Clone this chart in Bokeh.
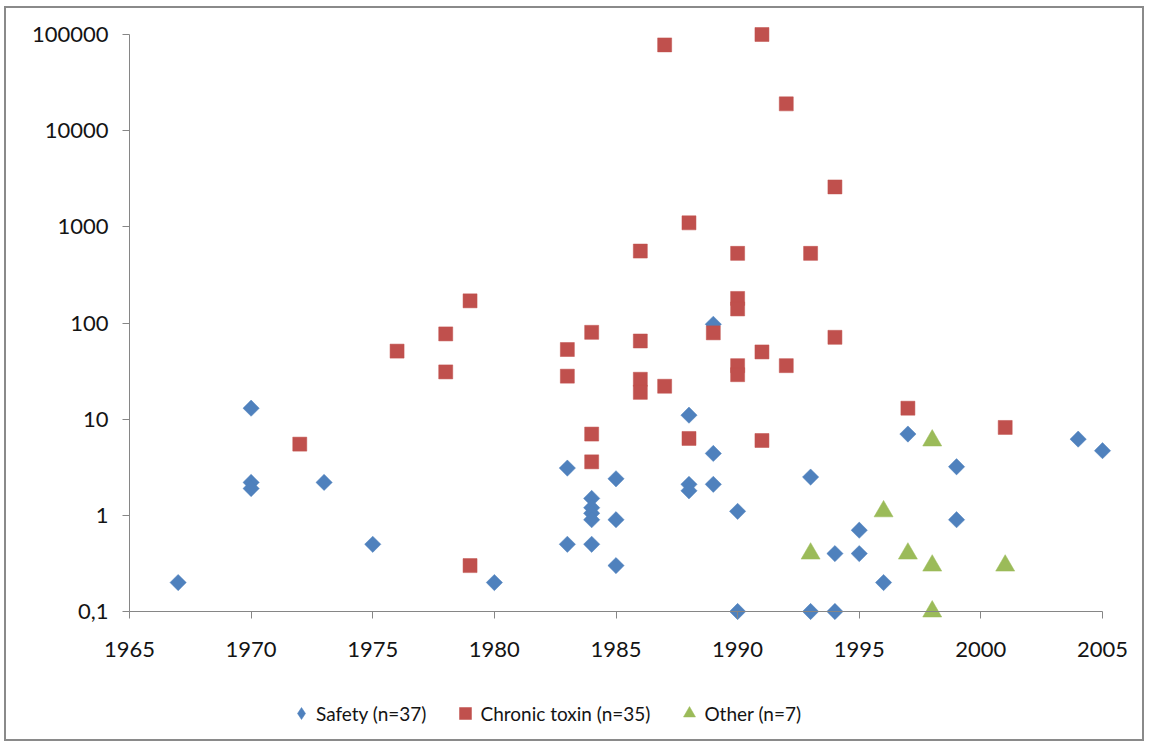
import numpy as np
from bokeh.plotting import figure
from bokeh.models import (Range1d, FixedTicker, CustomJSTickFormatter, Legend,
                          LegendItem, LinearAxis, LogAxis, ColumnDataSource)
from bokeh.embed import file_html
from bokeh.resources import INLINE

# ---------------- data ----------------
safety_year = [1967, 1970, 1970, 1970, 1973, 1975, 1980, 1983, 1983,
               1984, 1984, 1984, 1984, 1984, 1985, 1985, 1985,
               1988, 1988, 1988, 1989, 1989, 1989, 1990, 1990,
               1993, 1993, 1994, 1994, 1995, 1995, 1996, 1997,
               1999, 1999, 2004, 2005]
safety_val = [0.2, 13, 2.2, 1.9, 2.2, 0.5, 0.2, 3.1, 0.5,
              1.5, 1.2, 1.05, 0.9, 0.5, 2.4, 0.9, 0.3,
              11, 2.1, 1.8, 97, 4.4, 2.1, 1.1, 0.1,
              2.5, 0.1, 0.4, 0.1, 0.7, 0.4, 0.2, 7,
              3.2, 0.9, 6.2, 4.7]

chronic_year = [1972, 1976, 1978, 1978, 1979, 1979, 1983, 1983,
                1984, 1984, 1984, 1986, 1986, 1986, 1986, 1987, 1987,
                1988, 1988, 1989, 1990, 1990, 1990, 1990, 1990,
                1991, 1991, 1991, 1992, 1992, 1993, 1994, 1994, 1997, 2001]
chronic_val = [5.5, 51, 77, 31, 170, 0.3, 53, 28,
               80, 7, 3.6, 560, 65, 26, 19, 78000, 22,
               1100, 6.3, 79, 530, 180, 140, 36, 29,
               100000, 50, 6, 19000, 36, 530, 2600, 71, 13, 8.2]

other_year = [1993, 1996, 1997, 1998, 1998, 1998, 2001]
other_val = [0.4, 1.1, 0.4, 6, 0.3, 0.1, 0.3]

series_labels = ["Safety (n=37)", "Chronic toxin (n=35)", "Other (n=7)"]
x_ticks = [1965, 1970, 1975, 1980, 1985, 1990, 1995, 2000, 2005]
y_ticks = [0.1, 1, 10, 100, 1000, 10000, 100000]

# ---------------- layout (canvas pixels) ----------------
W, H = 1140, 735
DATA_L, DATA_R = 123, 1096        # x of 1965 and 2005
DATA_T, DATA_B = 26, 603          # y of 100000 and 0.1
PAD = 10
FRAME_L = DATA_L - PAD
FRAME_R = DATA_R + PAD
FRAME_T = DATA_T - PAD
FRAME_B = 726                      # frame reaches down to hold the legend

x_lo, x_hi = 1965, 2005
y_lo, y_hi = 0.1, 100000
ppx = (DATA_R - DATA_L) / (x_hi - x_lo)
ppd = (DATA_B - DATA_T) / (np.log10(y_hi) - np.log10(y_lo))
x_range = Range1d(x_lo - (DATA_L - FRAME_L) / ppx, x_hi + (FRAME_R - DATA_R) / ppx)
y_range = Range1d(10 ** (np.log10(y_lo) - (FRAME_B - DATA_B) / ppd),
                  10 ** (np.log10(y_hi) + (DATA_T - FRAME_T) / ppd))

p = figure(width=W, height=H, output_backend="svg", toolbar_location=None,
           title=None, y_axis_type="log", x_range=x_range, y_range=y_range,
           min_border_left=FRAME_L, min_border_right=W - FRAME_R,
           min_border_top=FRAME_T, min_border_bottom=H - FRAME_B)
p.styles = {"border": "2px solid #8a8a8a", "margin-left": "4px", "margin-top": "6px"}
p.outline_line_color = None
p.grid.visible = False
p.background_fill_color = "white"
p.border_fill_color = "white"

FONT = "Lato"
AX = "#868686"
TXT = "#141414"
BLUE, RED, GREEN = "#4F81BD", "#C0504D", "#9BBB59"

# label-only axes on the frame edges
for ax in (p.xaxis[0], p.yaxis[0]):
    ax.axis_line_color = None
    ax.major_tick_line_color = None
    ax.minor_tick_line_color = None
    ax.major_tick_in = 0
    ax.major_tick_out = 0
    ax.major_label_text_font = FONT
    ax.major_label_text_font_size = "22px"
    ax.major_label_text_color = TXT

p.xaxis[0].ticker = FixedTicker(ticks=x_ticks)
p.xaxis[0].major_label_standoff = -(FRAME_B - DATA_B) + 30
p.yaxis[0].ticker = FixedTicker(ticks=y_ticks)
p.yaxis[0].major_label_standoff = 11
p.yaxis[0].formatter = CustomJSTickFormatter(
    code="return tick < 1 ? String(tick).replace('.', ',') : String(Math.round(tick));")

# line + tick axes crossing at (1965, 0.1)
xline = LinearAxis(ticker=FixedTicker(ticks=x_ticks), bounds=(x_lo, x_hi),
                   fixed_location=y_lo)
yline = LogAxis(ticker=FixedTicker(ticks=y_ticks), bounds=(y_lo, y_hi),
                fixed_location=x_lo)
for ax in (xline, yline):
    ax.axis_line_color = AX
    ax.major_tick_line_color = AX
    ax.minor_tick_line_color = None
    ax.major_tick_in = 0
    ax.major_tick_out = 7
    ax.major_label_text_font_size = "1px"
    ax.major_label_text_color = None
    ax.major_label_standoff = 0
p.add_layout(xline, "below")
p.add_layout(yline, "left")

safety_src = ColumnDataSource(dict(year=safety_year, val=safety_val))
r1 = p.scatter("year", "val", source=safety_src, marker="square", angle=np.pi / 4,
               size=11.5, fill_color=BLUE, line_color=BLUE, line_width=0.5)
r2 = p.scatter(chronic_year, chronic_val, marker="square", size=14,
               fill_color=RED, line_color=RED, line_width=0.5)
r3 = p.scatter(other_year, other_val, marker="triangle", size=19,
               fill_color=GREEN, line_color=GREEN, line_width=0.5)
# hidden twin of the safety series, used only for its diamond legend key
r1_key = p.scatter("year", "val", source=safety_src, marker="diamond", size=12,
                   fill_color=BLUE, line_color=BLUE, line_width=0.5, visible=False)

legend = Legend(items=[LegendItem(label=series_labels[0], renderers=[r1_key]),
                       LegendItem(label=series_labels[1], renderers=[r2]),
                       LegendItem(label=series_labels[2], renderers=[r3])],
                orientation="horizontal", location=(167, 6),
                padding=0, margin=0, spacing=24,
                glyph_width=30, glyph_height=30, label_standoff=-4,
                label_text_font=FONT, label_text_font_size="19px",
                label_text_color=TXT, inactive_fill_alpha=0,
                border_line_color=None, background_fill_alpha=0)
p.add_layout(legend, "center")

open("out.html", "w").write(file_html(p, INLINE))
